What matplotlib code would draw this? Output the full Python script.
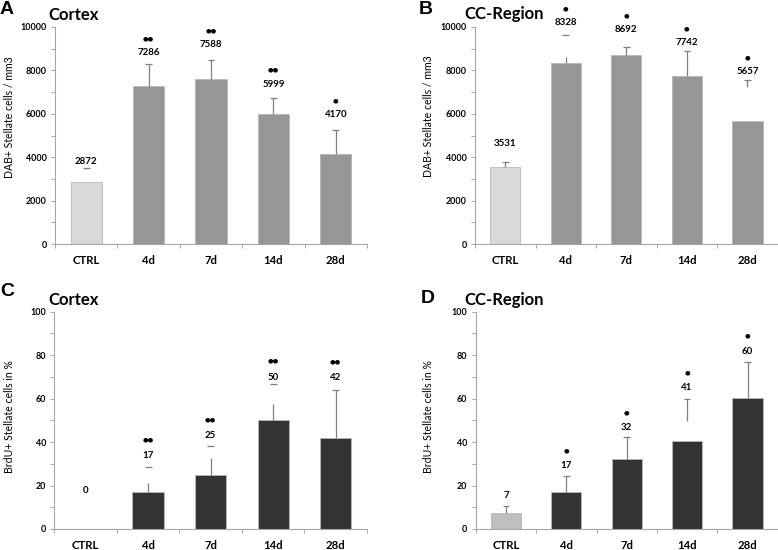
import numpy as np
import matplotlib.pyplot as plt
from matplotlib.ticker import MultipleLocator

plt.rcParams['font.family'] = ['Lato', 'DejaVu Sans']

cats = ['CTRL', '4d', '7d', '14d', '28d']

# A - DAB+ cells, cortex
a_vals = [2872, 7286, 7588, 5999, 4170]
a_err = [650, 1000, 880, 730, 1080]
a_gap = [(0, 570), None, None, None, None]      # part of the error line hidden behind labels
a_stars = ['', '●●', '●●', '●●', '●']

# B - DAB+ cells, CC-region
b_vals = [3531, 8328, 8692, 7742, 5657]
b_err = [250, 1300, 400, 1150, 1900]
b_gap = [None, (290, 1300), None, None, (0, 1590)]
b_stars = ['', '●', '●', '●', '●']

# C - BrdU+ cells, cortex
c_vals = [0, 17, 25, 50, 42]
c_err = [0, 11.7, 13.2, 16.8, 22]
c_gap = [None, (4.2, 11.7), (7.9, 13.2), (7.5, 16.8), None]
c_stars = ['', '●●', '●●', '●●', '●●']

# D - BrdU+ cells, CC-region
d_vals = [7.2, 17, 32, 40.6, 60.4]
d_err = [3.4, 7.4, 10.2, 19.1, 16.5]
d_gap = [None, None, None, (0, 9.1), None]
d_stars = ['', '●', '●', '●', '●']

# layout: height of the value labels in data units
a_lab_y = [3780, 8815, 9200, 7370, 5975]
b_lab_y = [4610, 10200, 9890, 9290, 7940]
c_lab_y = [17.9, 33.6, 42.8, 69.8, 69.6]
d_lab_y = [15.6, 29.0, 46.6, 65.0, 81.6]

W, H = 778, 550
fig = plt.figure(figsize=(W / 100, H / 100), dpi=100)


def add_ax(left, right, top, bottom):
    return fig.add_axes([left / W, 1 - bottom / H, (right - left) / W, (bottom - top) / H])


def panel(ax, vals, err, gap, colors, lab_y, stars, ymax, step, ylabel, ylab_xy, star_off):
    x = np.arange(len(cats))
    ax.bar(x, vals, width=0.5, color=colors, edgecolor='#b8b8b8', linewidth=0.6, zorder=2)

    ecol = '#7f7f7f'
    for xi, v, e, g in zip(x, vals, err, gap):
        if e <= 0:
            continue
        if g is None:
            ax.vlines(xi, v, v + e, color=ecol, lw=0.9, zorder=3)
        else:
            if g[0] > 0:
                ax.vlines(xi, v, v + g[0], color=ecol, lw=0.9, zorder=3)
            if g[1] < e:
                ax.vlines(xi, v + g[1], v + e, color=ecol, lw=0.9, zorder=3)
        ax.hlines(v + e, xi - 0.055, xi + 0.055, color=ecol, lw=0.9, zorder=3)

    for xi, v, ly, s in zip(x, vals, lab_y, stars):
        ax.text(xi, ly, f'{v:.0f}', ha='center', va='center', fontsize=7,
                fontweight='bold', clip_on=False)
        if s:
            ax.annotate(s, (xi, ly), xytext=(0, star_off), textcoords='offset points',
                        ha='center', va='center', fontsize=4.6, family='DejaVu Sans',
                        annotation_clip=False)

    ax.set_xlim(-0.5, len(cats) - 0.5)
    ax.set_ylim(0, ymax)
    ax.set_xticks(x)
    ax.set_xticklabels(cats, fontsize=8.2, fontweight='bold')
    ax.set_xticks(np.arange(len(cats) + 1) - 0.5, minor=True)
    ax.tick_params(axis='x', which='major', length=0, pad=8)
    ax.tick_params(axis='x', which='minor', length=3, color='#a6a6a6', width=0.7)
    ax.yaxis.set_major_locator(MultipleLocator(step))
    ax.yaxis.set_minor_locator(MultipleLocator(step / 2))
    ax.tick_params(axis='y', which='both', length=3, color='#a6a6a6', width=0.7,
                   labelsize=6.4, pad=3)
    for t in ax.get_yticklabels():
        t.set_fontweight('bold')
    for side in ('top', 'right'):
        ax.spines[side].set_visible(False)
    for side in ('left', 'bottom'):
        ax.spines[side].set_color('#a6a6a6')
        ax.spines[side].set_linewidth(0.8)
    ax.text(ylab_xy[0], ylab_xy[1], ylabel, transform=ax.transAxes, rotation=90,
            ha='center', va='center', fontsize=7.6)


light, mid, dark, ctrl_d = '#d9d9d9', '#969696', '#333333', '#bfbfbf'

axA = add_ax(55, 367, 27, 244)
axB = add_ax(475, 777.7, 27, 244)
axC = add_ax(54.3, 367, 311.7, 529)
axD = add_ax(475.7, 777.7, 311.7, 529)

panel(axA, a_vals, a_err, a_gap, [light] + [mid] * 4, a_lab_y, a_stars, 10000, 2000,
      'DAB+ Stellate cells / mm3', (-0.146, 0.585), 10)
panel(axB, b_vals, b_err, b_gap, [light] + [mid] * 4, b_lab_y, b_stars, 10000, 2000,
      'DAB+ Stellate cells / mm3', (-0.155, 0.59), 10)
panel(axC, c_vals, c_err, c_gap, [light] + [dark] * 4, c_lab_y, c_stars, 100, 20,
      'BrdU+ Stellate cells in %', (-0.144, 0.517), 11.5)
panel(axD, d_vals, d_err, d_gap, [ctrl_d] + [dark] * 4, d_lab_y, d_stars, 100, 20,
      'BrdU+ Stellate cells in %', (-0.157, 0.52), 11)

# panel letters and titles (pixel positions of baselines)
for letter, lx, by in [('A', 0, 14), ('B', 419, 14), ('C', 0, 296), ('D', 421, 303)]:
    fig.text(lx / W, 1 - by / H, letter, fontsize=14, fontweight='bold',
             family='Liberation Sans', va='baseline')
for title, tx, by in [('Cortex', 48, 20), ('CC-Region', 464, 19.5),
                      ('Cortex', 48, 305), ('CC-Region', 464, 305)]:
    fig.text(tx / W, 1 - by / H, title, fontsize=12, fontweight='bold', va='baseline')

fig.savefig('out.png', dpi=100)
